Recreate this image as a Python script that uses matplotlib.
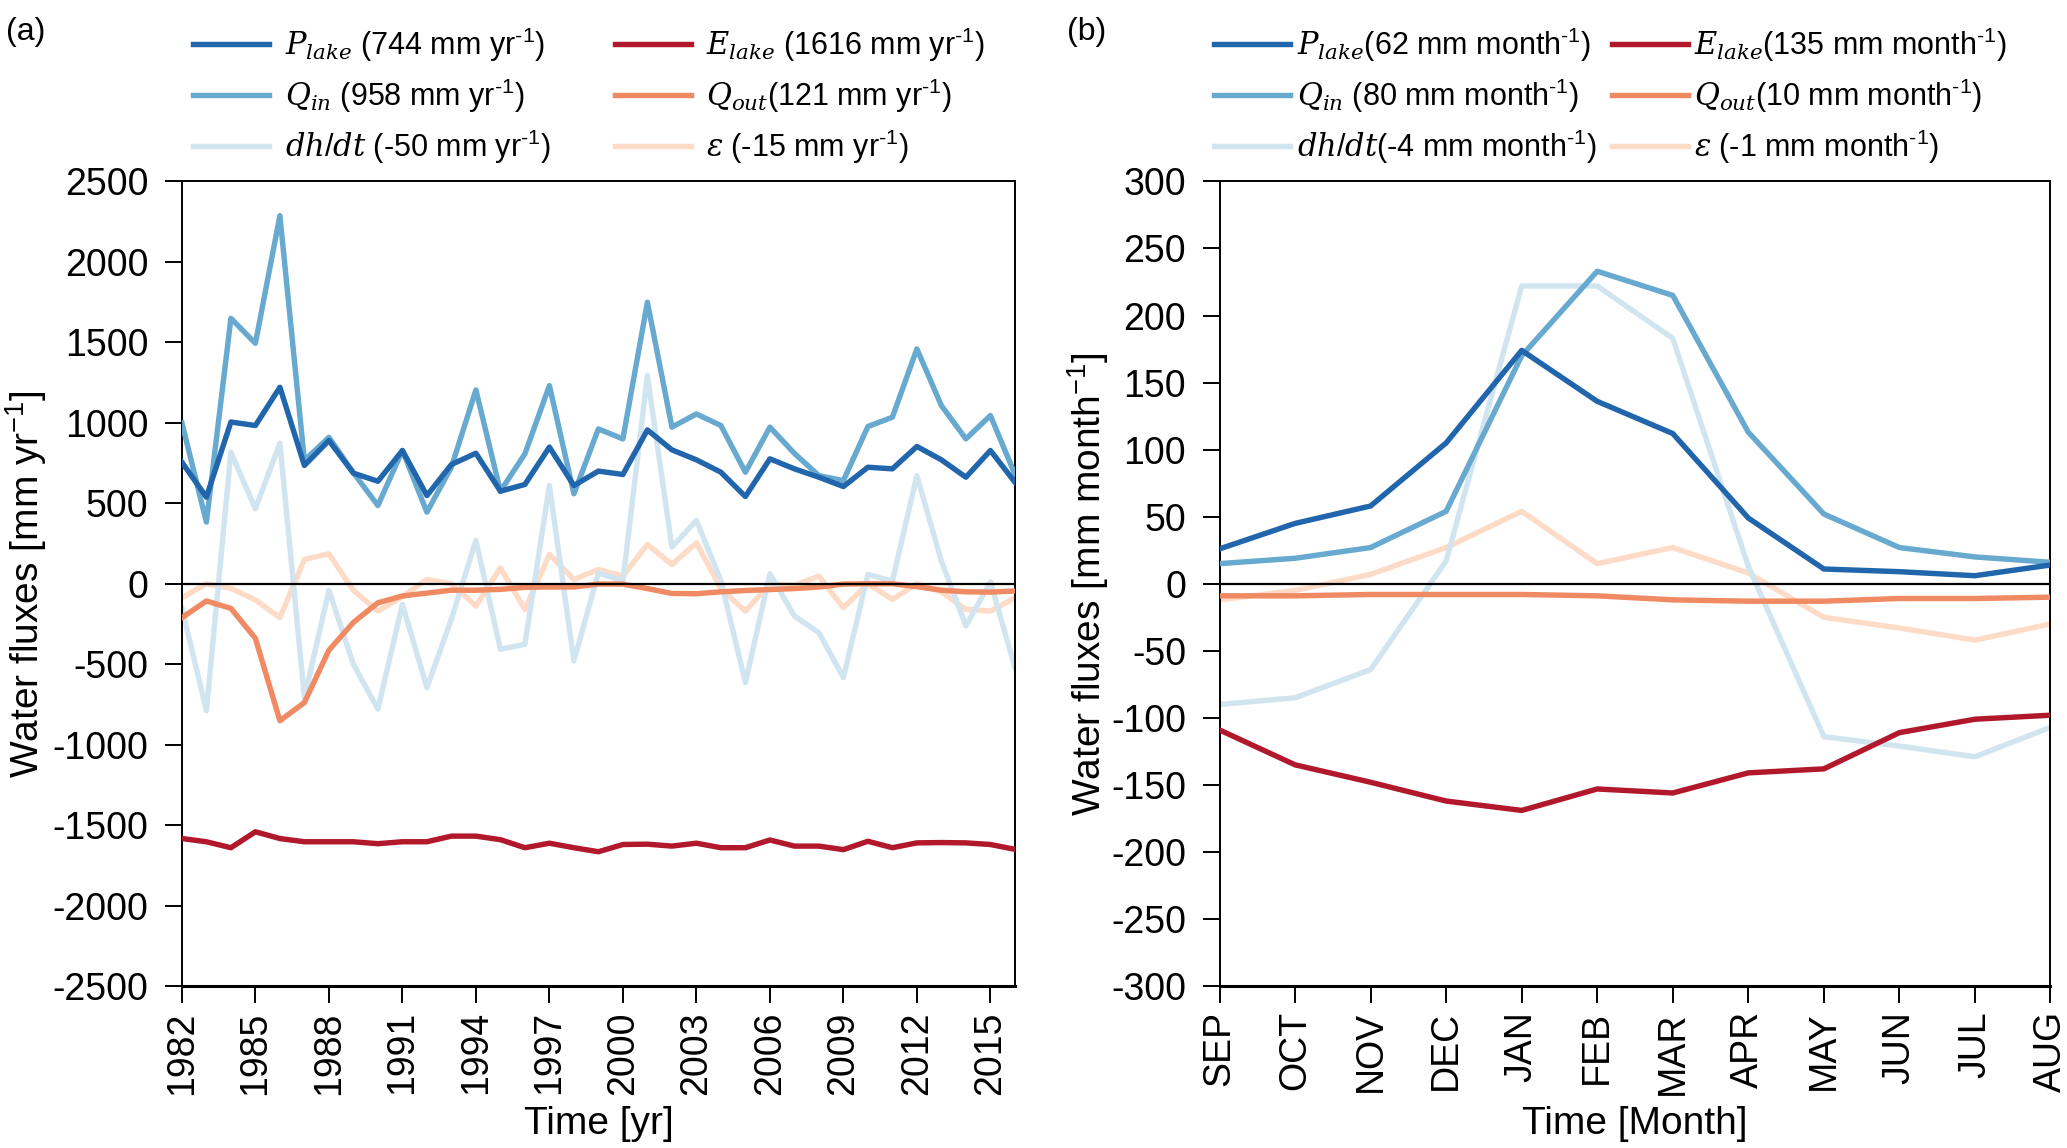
import numpy as np
import matplotlib
matplotlib.use('Agg')
import matplotlib.pyplot as plt

plt.rcParams['font.family'] = ['Liberation Sans', 'DejaVu Sans']
plt.rcParams['axes.unicode_minus'] = False
plt.rcParams['mathtext.fontset'] = 'custom'
plt.rcParams['mathtext.rm'] = 'Liberation Sans'
plt.rcParams['mathtext.it'] = 'DejaVu Serif:italic'
plt.rcParams['mathtext.bf'] = 'Liberation Sans:bold'

# ---- dados anuais (a) ----
anos = np.arange(1982, 2017)
p_lake_a = [755, 538, 1005, 983, 1221, 735, 890, 687, 637, 828, 548, 741, 811, 575, 617, 849,
            610, 700, 679, 956, 832, 770, 693, 542, 776, 714, 662, 604, 724, 714, 853, 770,
            662, 828, 631]
q_in_a = [1000, 383, 1649, 1494, 2287, 766, 910, 690, 486, 828, 445, 724, 1204, 575, 807, 1231,
          559, 962, 900, 1749, 973, 1055, 983, 693, 973, 810, 672, 641, 977, 1035, 1459, 1107,
          900, 1045, 680]
dhdt_a = [-150, -789, 817, 466, 873, -707, -41, -500, -779, -128, -645, -220, 269, -407, -376, 610,
          -479, 68, 17, 1293, 228, 393, 20, -614, 62, -200, -304, -583, 58, 17, 672, 140,
          -262, 12, -520]
e_lake_a = [-1583, -1603, -1640, -1541, -1583, -1603, -1603, -1603, -1615, -1603, -1603, -1568,
            -1568, -1590, -1640, -1612, -1640, -1665, -1620, -1618, -1630, -1612, -1640, -1640,
            -1592, -1630, -1630, -1652, -1600, -1640, -1610, -1608, -1610, -1620, -1650]
q_out_a = [-211, -107, -153, -339, -851, -738, -413, -240, -118, -76, -58, -40, -40, -35, -22,
           -20, -20, -2, -2, -30, -60, -62, -50, -42, -36, -30, -20, -2, 0, 0, -18, -40, -50,
           -52, -45]
eps_a = [-87, 0, -29, -100, -211, 151, 186, -41, -170, -80, 27, 0, -138, 99, -159, 182, 27, 89,
         48, 244, 120, 254, -30, -170, 0, -10, 48, -149, 0, -97, 0, -50, -159, -170, -87]

# ---- dados mensais (b) ----
meses = ['SEP', 'OCT', 'NOV', 'DEC', 'JAN', 'FEB', 'MAR', 'APR', 'MAY', 'JUN', 'JUL', 'AUG']
p_lake_b = [26, 45, 58, 105, 174, 136, 112, 49, 11, 9, 6, 14]
q_in_b = [15, 19, 27, 54, 170, 233, 215, 113, 52, 27, 20, 16]
dhdt_b = [-90, -85, -64, 17, 222, 222, 183, 13, -114, -121, -129, -107]
e_lake_b = [-109, -135, -148, -162, -169, -153, -156, -141, -138, -111, -101, -98]
q_out_b = [-9, -9, -8, -8, -8, -9, -12, -13, -13, -11, -11, -10]
eps_b = [-12, -5, 7, 27, 54, 15, 27, 8, -25, -33, -42, -30]

cores = {'p': '#2166ac', 'qin': '#67a9cf', 'dh': '#d1e5f0',
         'e': '#b2182b', 'qout': '#ef8a62', 'eps': '#fddbc7'}

sup = r'$^{\text{-1}}$'
leg_a = [r'$P_{lake}$ (744 mm yr' + sup + ')', r'$Q_{in}$ (958 mm yr' + sup + ')',
         r'$dh/dt$ (-50 mm yr' + sup + ')', r'$E_{lake}$ (1616 mm yr' + sup + ')',
         r'$Q_{out}$(121 mm yr' + sup + ')', r'$\varepsilon$ (-15 mm yr' + sup + ')']
leg_b = [r'$P_{lake}$(62 mm month' + sup + ')', r'$Q_{in}$ (80 mm month' + sup + ')',
         r'$dh/dt$(-4 mm month' + sup + ')', r'$E_{lake}$(135 mm month' + sup + ')',
         r'$Q_{out}$(10 mm month' + sup + ')', r'$\varepsilon$ (-1 mm month' + sup + ')']


def desenha(ax, x, series, rotulos):
    # ordem: P, Qin, dh/dt, E, Qout, eps (colunas da legenda)
    chaves = ['p', 'qin', 'dh', 'e', 'qout', 'eps']
    ordem_z = {'p': 6, 'qin': 5, 'dh': 2, 'e': 4, 'qout': 3, 'eps': 1}
    linhas = []
    for k, y, lab in zip(chaves, series, rotulos):
        l, = ax.plot(x, y, color=cores[k], lw=3.9, label=lab, zorder=ordem_z[k])
        linhas.append(l)
    ax.axhline(0, color='black', lw=1.6, zorder=7)
    for s in ax.spines.values():
        s.set_linewidth(1.4)
    ax.spines['bottom'].set_linewidth(2.2)
    ax.tick_params(direction='out', length=12, width=1.4, labelsize=27)
    ax.tick_params(axis='y', pad=12)
    ax.tick_params(axis='x', pad=6, labelrotation=90)
    return linhas


fig = plt.figure(figsize=(20.67, 11.48), dpi=100)
ax1 = fig.add_axes([0.088, 0.141, 0.403, 0.701])
ax2 = fig.add_axes([0.590, 0.141, 0.402, 0.701])

l1 = desenha(ax1, anos, [p_lake_a, q_in_a, dhdt_a, e_lake_a, q_out_a, eps_a], leg_a)
ax1.set_xlim(1982, 2016)
ax1.set_ylim(-2500, 2500)
ax1.set_yticks(np.arange(-2500, 2501, 500))
ax1.set_xticks(np.arange(1982, 2016, 3))
ax1.set_xlabel('Time [yr]', fontsize=28, labelpad=8)
ax1.set_ylabel(r'Water fluxes [mm yr$^{-1}$]', fontsize=28, labelpad=3)
ax1.legend(handles=l1, ncol=2, loc='lower left', bbox_to_anchor=(-0.005, 1.0),
           frameon=False, fontsize=22, handlelength=2.5, handletextpad=0.5,
           columnspacing=2.1, labelspacing=0.42, borderaxespad=0.1)

xm = np.arange(len(meses))
l2 = desenha(ax2, xm, [p_lake_b, q_in_b, dhdt_b, e_lake_b, q_out_b, eps_b], leg_b)
ax2.set_xlim(0, 11)
ax2.set_ylim(-300, 300)
ax2.set_yticks(np.arange(-300, 301, 50))
ax2.set_xticks(xm)
ax2.set_xticklabels(meses)
ax2.set_xlabel('Time [Month]', fontsize=28, labelpad=8)
ax2.set_ylabel(r'Water fluxes [mm month$^{-1}$]', fontsize=28, labelpad=0)
ax2.legend(handles=l2, ncol=2, loc='lower left', bbox_to_anchor=(-0.025, 1.0),
           frameon=False, fontsize=22, handlelength=2.5, handletextpad=0.2,
           columnspacing=0.5, labelspacing=0.42, borderaxespad=0.1)

fig.text(0.003, 0.985, '(a)', fontsize=23, va='top')
fig.text(0.516, 0.985, '(b)', fontsize=23, va='top')

fig.savefig('out.png', dpi=100)
